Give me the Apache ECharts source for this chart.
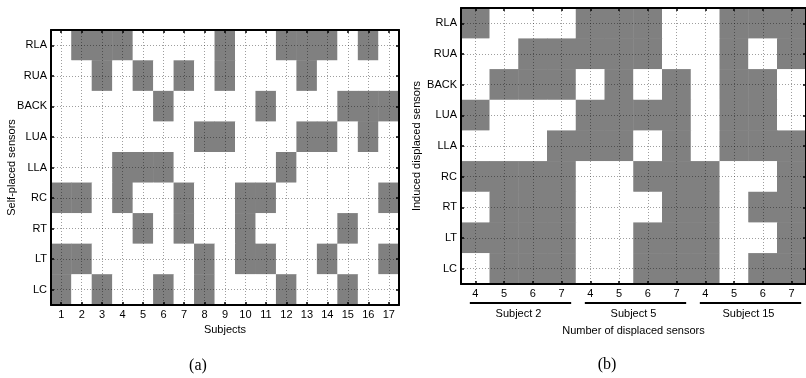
<!DOCTYPE html>
<html>
<head>
<meta charset="utf-8">
<title>Sensor displacement</title>
<script src="https://cdn.jsdelivr.net/npm/echarts@6/dist/echarts.min.js"></script>
</head>
<body style="margin:0">
<div id="main" style="width: 806px; height: 378px;"></div>
<script type="text/javascript">
var sensors = ['RLA', 'RUA', 'BACK', 'LUA', 'LLA', 'RC', 'RT', 'LT', 'LC'];
var subjects = ['1','2','3','4','5','6','7','8','9','10','11','12','13','14','15','16','17'];
var displacedSubjects = ['Subject 2', 'Subject 5', 'Subject 15'];
var displacedCounts = ['4', '5', '6', '7'];

// (a) self-placed sensors, 1 = gray cell, one entry per subject
var selfRLA  = [0,1,1,1,0,0,0,0,1,0,0,1,1,1,0,1,0];
var selfRUA  = [0,0,1,0,1,0,1,0,1,0,0,0,1,0,0,0,0];
var selfBACK = [0,0,0,0,0,1,0,0,0,0,1,0,0,0,1,1,1];
var selfLUA  = [0,0,0,0,0,0,0,1,1,0,0,0,1,1,0,1,0];
var selfLLA  = [0,0,0,1,1,1,0,0,0,0,0,1,0,0,0,0,0];
var selfRC   = [1,1,0,1,0,0,1,0,0,1,1,0,0,0,0,0,1];
var selfRT   = [0,0,0,0,1,0,1,0,0,1,0,0,0,0,1,0,0];
var selfLT   = [1,1,0,0,0,0,0,1,0,1,1,0,0,1,0,0,1];
var selfLC   = [1,0,1,0,0,1,0,1,0,0,0,1,0,0,1,0,0];

// (b) induced displaced sensors, subject 2 / 5 / 15 x 4..7 displaced
var indRLA  = [1,0,0,0,1,1,1,0,0,1,1,1];
var indRUA  = [0,0,1,1,1,1,1,0,0,1,0,1];
var indBACK = [0,1,1,1,0,1,0,1,0,1,1,0];
var indLUA  = [1,0,0,0,1,1,1,1,0,1,1,0];
var indLLA  = [0,0,0,1,1,1,0,1,0,1,1,1];
var indRC   = [1,1,1,1,0,0,1,1,1,0,0,1];
var indRT   = [0,1,1,1,0,0,0,1,1,0,1,1];
var indLT   = [1,1,1,1,0,0,1,1,1,0,0,1];
var indLC   = [0,1,1,1,0,0,1,1,1,0,1,1];

var selfRows = [selfRLA, selfRUA, selfBACK, selfLUA, selfLLA, selfRC, selfRT, selfLT, selfLC];
var indRows = [indRLA, indRUA, indBACK, indLUA, indLLA, indRC, indRT, indLT, indLC];

var indCats = [];
displacedSubjects.forEach(function (s) {
	displacedCounts.forEach(function (n) { indCats.push(s + '|' + n); });
});

function toCells(rows) {
	var out = [];
	rows.forEach(function (row, r) {
		row.forEach(function (v, c) { out.push([c, r, v]); });
	});
	return out;
}

var font = 'Liberation Sans, Arial, sans-serif';
var dotted = { color: 'rgba(0,0,0,0.38)', type: [1, 2], width: 1 };

function catAxis(data, grid, pos, main, extra) {
	var ax = {
		type: 'category',
		data: data,
		gridIndex: grid,
		position: pos,
		z: 3,
		axisLine: { show: true, lineStyle: { color: '#000', width: 2 } },
		axisTick: { show: true, inside: true, length: 3, alignWithLabel: true, interval: 0,
			lineStyle: { color: '#000', width: 1.5 } },
		axisLabel: { show: main, interval: 0, color: '#000', fontSize: 11, fontFamily: font, margin: 4 },
		splitLine: { show: main, alignWithLabel: true, interval: 0, lineStyle: dotted },
		nameTextStyle: { color: '#000', fontSize: 11, fontFamily: font }
	};
	for (var k in extra) ax[k] = extra[k];
	return ax;
}

var myChart = echarts.init(document.getElementById('main'));

var option = {
	animation: false,
	backgroundColor: '#fff',
	grid: [
		{ left: 51, top: 30, width: 348, height: 275 },
		{ left: 461, top: 8, width: 349, height: 276 }
	],
	visualMap: {
		type: 'piecewise',
		show: false,
		pieces: [{ value: 0, color: '#ffffff' }, { value: 1, color: '#808080' }]
	},
	xAxis: [
		catAxis(subjects, 0, 'bottom', true, { name: 'Subjects', nameLocation: 'middle', nameGap: 15 }),
		catAxis(subjects, 0, 'top', false, {}),
		catAxis(indCats, 1, 'bottom', true, { name: 'Number of displaced sensors', nameLocation: 'middle', nameGap: 41 }),
		catAxis(indCats, 1, 'top', false, {})
	],
	yAxis: [
		catAxis(sensors, 0, 'left', true, { inverse: true, name: 'Self-placed sensors', nameLocation: 'middle', nameGap: 34, nameMoveOverlap: false }),
		catAxis(sensors, 0, 'right', false, { inverse: true }),
		catAxis(sensors, 1, 'left', true, { inverse: true, name: 'Induced displaced sensors', nameLocation: 'middle', nameGap: 39, nameMoveOverlap: false }),
		catAxis(sensors, 1, 'right', false, { inverse: true })
	],
	series: [
		{ type: 'heatmap', xAxisIndex: 0, yAxisIndex: 0, z: 1, data: toCells(selfRows),
			emphasis: { disabled: true }, itemStyle: { borderWidth: 0 } },
		{ type: 'heatmap', xAxisIndex: 2, yAxisIndex: 2, z: 1, data: toCells(indRows),
			emphasis: { disabled: true }, itemStyle: { borderWidth: 0 } }
	]
};
option.xAxis[2].axisLabel.formatter = function (v) { return v.split('|')[1]; };

myChart.setOption(option);

// subject group brackets under panel (b)
var bw = 349 / indCats.length;
var extras = [];
displacedSubjects.forEach(function (s, g) {
	var x0 = myChart.convertToPixel({ xAxisIndex: 2 }, indCats[g * 4]) - bw / 2 + 9;
	var x1 = myChart.convertToPixel({ xAxisIndex: 2 }, indCats[g * 4 + 3]) + bw / 2 - 5;
	extras.push({ type: 'line', shape: { x1: x0, y1: 303, x2: x1, y2: 303 },
		style: { stroke: '#000', lineWidth: 2 } });
	extras.push({ type: 'text', x: (x0 + x1) / 2 - 2, y: 314,
		style: { text: s, fill: '#000', font: '11px ' + font, textAlign: 'center', textVerticalAlign: 'middle' } });
});
extras.push({ type: 'text', x: 198, y: 366,
	style: { text: '(a)', fill: '#000', font: '16px Liberation Serif, serif', textAlign: 'center', textVerticalAlign: 'middle' } });
extras.push({ type: 'text', x: 607, y: 365,
	style: { text: '(b)', fill: '#000', font: '16px Liberation Serif, serif', textAlign: 'center', textVerticalAlign: 'middle' } });
myChart.setOption({ graphic: extras });
</script>
</body>
</html>
